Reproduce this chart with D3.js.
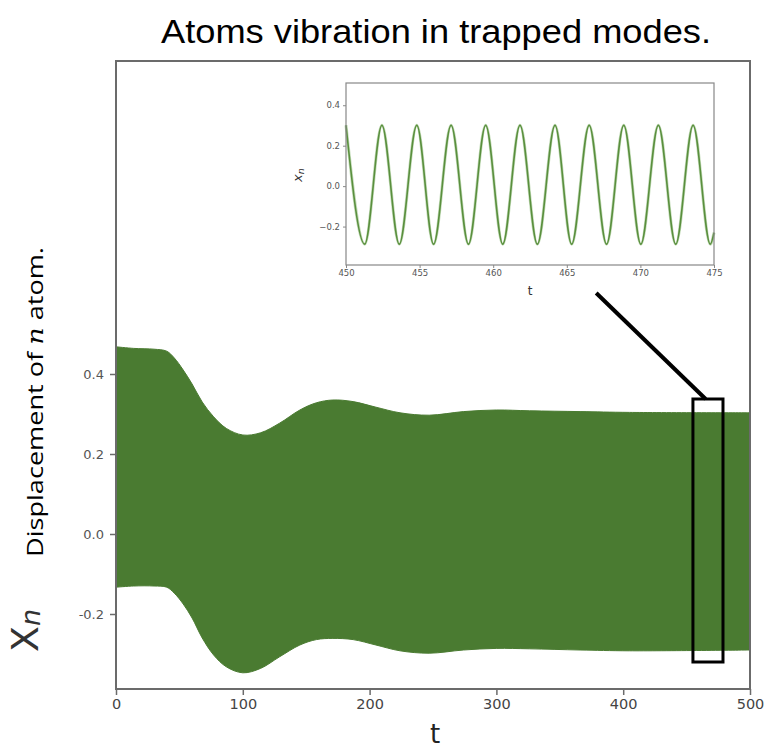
<!DOCTYPE html>
<html>
<head>
<meta charset="utf-8">
<script src="https://cdn.jsdelivr.net/npm/d3@7"></script>
<style>
  body { margin: 0; background: #fff; }
  svg { display: block; }
</style>
</head>
<body>
<div id="chart"></div>
<script>
// envelope of the fast oscillation (main plot)
const envT     = [0, 14, 30, 40, 46, 53, 60, 68, 77, 87, 100, 114, 129, 145, 158, 171, 187, 205, 224, 247, 274, 300, 326, 366, 405, 500];
const envUpper = [0.468, 0.464, 0.462, 0.457, 0.44, 0.41, 0.375, 0.33, 0.293, 0.264, 0.2475, 0.253, 0.277, 0.31, 0.328, 0.335, 0.331, 0.317, 0.303, 0.297, 0.306, 0.31, 0.308, 0.306, 0.304, 0.303];
const envLower = [-0.133, -0.13, -0.13, -0.133, -0.148, -0.175, -0.21, -0.26, -0.3025, -0.332, -0.347, -0.336, -0.307, -0.2775, -0.264, -0.261, -0.264, -0.2775, -0.292, -0.298, -0.29, -0.286, -0.287, -0.29, -0.292, -0.29];

// inset: extrema of the oscillation between t = 450 and 475
const insetT = [450, 451.27, 452.44, 453.62, 454.81, 455.95, 457.14, 458.32, 459.49, 460.65, 461.82, 463.0, 464.2, 465.33, 466.52, 467.7, 468.87, 470.03, 471.22, 472.4, 473.58, 474.75, 475];
const insetX = [0.301, -0.287, 0.301, -0.287, 0.301, -0.287, 0.301, -0.287, 0.301, -0.287, 0.301, -0.287, 0.301, -0.287, 0.301, -0.287, 0.301, -0.287, 0.301, -0.287, 0.301, -0.287, -0.23];

const mainXTicks = [0, 100, 200, 300, 400, 500];
const mainYTicks = [-0.2, 0.0, 0.2, 0.4];
const insetXTicks = [450, 455, 460, 465, 470, 475];
const insetYTicks = [-0.2, 0.0, 0.2, 0.4];

// zoom box and pointer line (main data coords)
const zoomBox = { t0: 455, t1: 478.7, y0: -0.32, y1: 0.3375 };
const pointer = [[378.7, 0.6025], [465, 0.3375]];

const width = 769, height = 749;
const green = "#4a7b31";

const svg = d3.select("#chart").append("svg")
  .attr("width", width).attr("height", height);

// main axes
const x = d3.scaleLinear().domain([0, 500]).range([116, 750]);
const y = d3.scaleLinear().domain([-0.3875, 1.1825]).range([689, 61]);

const env = envT.map((t, i) => ({ t: t, hi: envUpper[i], lo: envLower[i] }));

const area = d3.area()
  .x(d => x(d.t))
  .y0(d => y(d.lo))
  .y1(d => y(d.hi))
  .curve(d3.curveCatmullRom.alpha(0.5));

svg.append("path")
  .datum(env)
  .attr("d", area)
  .attr("fill", green)
  .attr("stroke", green)
  .attr("stroke-width", 1);

// frame
svg.append("rect")
  .attr("x", x(0)).attr("y", y(1.1825))
  .attr("width", x(500) - x(0)).attr("height", y(-0.3875) - y(1.1825))
  .attr("fill", "none").attr("stroke", "#6b6b6b").attr("stroke-width", 2);

const xAxis = svg.append("g")
  .attr("transform", `translate(0,${y(-0.3875)})`)
  .call(d3.axisBottom(x).tickValues(mainXTicks).tickSize(6).tickPadding(4).tickFormat(d3.format("d")));
xAxis.select(".domain").remove();
xAxis.selectAll("line").attr("stroke", "#6b6b6b").attr("stroke-width", 1.5);
xAxis.selectAll("text").attr("font-family", "DejaVu Sans").attr("font-size", 14.5).attr("fill", "#444");

const yAxis = svg.append("g")
  .attr("transform", `translate(${x(0)},0)`)
  .call(d3.axisLeft(y).tickValues(mainYTicks).tickSize(6).tickPadding(6).tickFormat(d3.format(".1f")));
yAxis.select(".domain").remove();
yAxis.selectAll("line").attr("stroke", "#6b6b6b").attr("stroke-width", 1.5);
yAxis.selectAll("text").attr("font-family", "DejaVu Sans").attr("font-size", 13).attr("fill", "#555")
  .text(d => d3.format(".1f")(d).replace("−", "-"));

// zoom box
svg.append("rect")
  .attr("x", x(zoomBox.t0)).attr("y", y(zoomBox.y1))
  .attr("width", x(zoomBox.t1) - x(zoomBox.t0))
  .attr("height", y(zoomBox.y0) - y(zoomBox.y1))
  .attr("fill", "none").attr("stroke", "#000").attr("stroke-width", 3);

svg.append("line")
  .attr("x1", x(pointer[0][0])).attr("y1", y(pointer[0][1]))
  .attr("x2", x(pointer[1][0])).attr("y2", y(pointer[1][1]))
  .attr("stroke", "#000").attr("stroke-width", 4);

// title
svg.append("text")
  .attr("x", 436).attr("y", 43)
  .attr("text-anchor", "middle")
  .attr("font-family", "Liberation Sans, Arial, sans-serif")
  .attr("font-size", 33)
  .attr("textLength", 550).attr("lengthAdjust", "spacingAndGlyphs")
  .attr("fill", "#000")
  .text("Atoms vibration in trapped modes.");

// x label
svg.append("text")
  .attr("x", 435).attr("y", 743)
  .attr("text-anchor", "middle")
  .attr("font-family", "DejaVu Sans")
  .attr("font-size", 26)
  .attr("fill", "#222")
  .text("t");

// y labels
const ylab = svg.append("text")
  .attr("transform", "translate(43,402) rotate(-90)")
  .attr("text-anchor", "middle")
  .attr("font-family", "Open Sans, sans-serif")
  .attr("font-size", 22)
  .attr("textLength", 310).attr("lengthAdjust", "spacingAndGlyphs")
  .attr("fill", "#000");
ylab.append("tspan").text("Displacement of ");
ylab.append("tspan").attr("font-family", "DejaVu Serif").attr("font-style", "italic").text("n");
ylab.append("tspan").text(" atom.");

const xn = svg.append("text")
  .attr("transform", "translate(38,652) rotate(-90)")
  .attr("font-family", "DejaVu Sans")
  .attr("fill", "#333");
xn.append("tspan").attr("font-size", 38).text("X");
xn.append("tspan").attr("font-size", 27).attr("font-style", "italic").attr("dy", 2).text("n");

// inset
const ix = d3.scaleLinear().domain([450, 475]).range([346, 714]);
const iy = d3.scaleLinear().domain([-0.39, 0.51]).range([265, 83]);

const inset = svg.append("g");
const pts = insetT.map((t, i) => ({ t: t, v: insetX[i] }));
const insetLine = d3.line().x(d => ix(d.t)).y(d => iy(d.v)).curve(d3.curveMonotoneX);

inset.append("path")
  .datum(pts)
  .attr("d", insetLine)
  .attr("fill", "none")
  .attr("stroke", "#9cc48a").attr("stroke-width", 3).attr("opacity", 0.6);
inset.append("path")
  .datum(pts)
  .attr("d", insetLine)
  .attr("fill", "none")
  .attr("stroke", "#5a8f3e").attr("stroke-width", 1.6);

inset.append("rect")
  .attr("x", ix(450)).attr("y", iy(0.51))
  .attr("width", ix(475) - ix(450)).attr("height", iy(-0.39) - iy(0.51))
  .attr("fill", "none").attr("stroke", "#888").attr("stroke-width", 1.2);

const ixAxis = inset.append("g")
  .attr("transform", `translate(0,${iy(-0.39)})`)
  .call(d3.axisBottom(ix).tickValues(insetXTicks).tickSize(3).tickPadding(2).tickFormat(d3.format("d")));
ixAxis.select(".domain").remove();
ixAxis.selectAll("line").attr("stroke", "#888");
ixAxis.selectAll("text").attr("font-family", "DejaVu Sans").attr("font-size", 8.5).attr("fill", "#555");

const iyAxis = inset.append("g")
  .attr("transform", `translate(${ix(450)},0)`)
  .call(d3.axisLeft(iy).tickValues(insetYTicks).tickSize(3).tickPadding(3).tickFormat(d3.format(".1f")));
iyAxis.select(".domain").remove();
iyAxis.selectAll("line").attr("stroke", "#888");
iyAxis.selectAll("text").attr("font-family", "DejaVu Sans").attr("font-size", 8.5).attr("fill", "#555");

inset.append("text")
  .attr("x", 530).attr("y", 295)
  .attr("text-anchor", "middle")
  .attr("font-family", "DejaVu Sans").attr("font-size", 12).attr("fill", "#333")
  .text("t");

const ixn = inset.append("text")
  .attr("transform", "translate(302,182) rotate(-90)")
  .attr("font-family", "DejaVu Sans").attr("fill", "#333");
ixn.append("tspan").attr("font-size", 13).attr("font-style", "italic").text("x");
ixn.append("tspan").attr("font-size", 9.5).attr("font-style", "italic").attr("dy", 2).text("n");
</script>
</body>
</html>
